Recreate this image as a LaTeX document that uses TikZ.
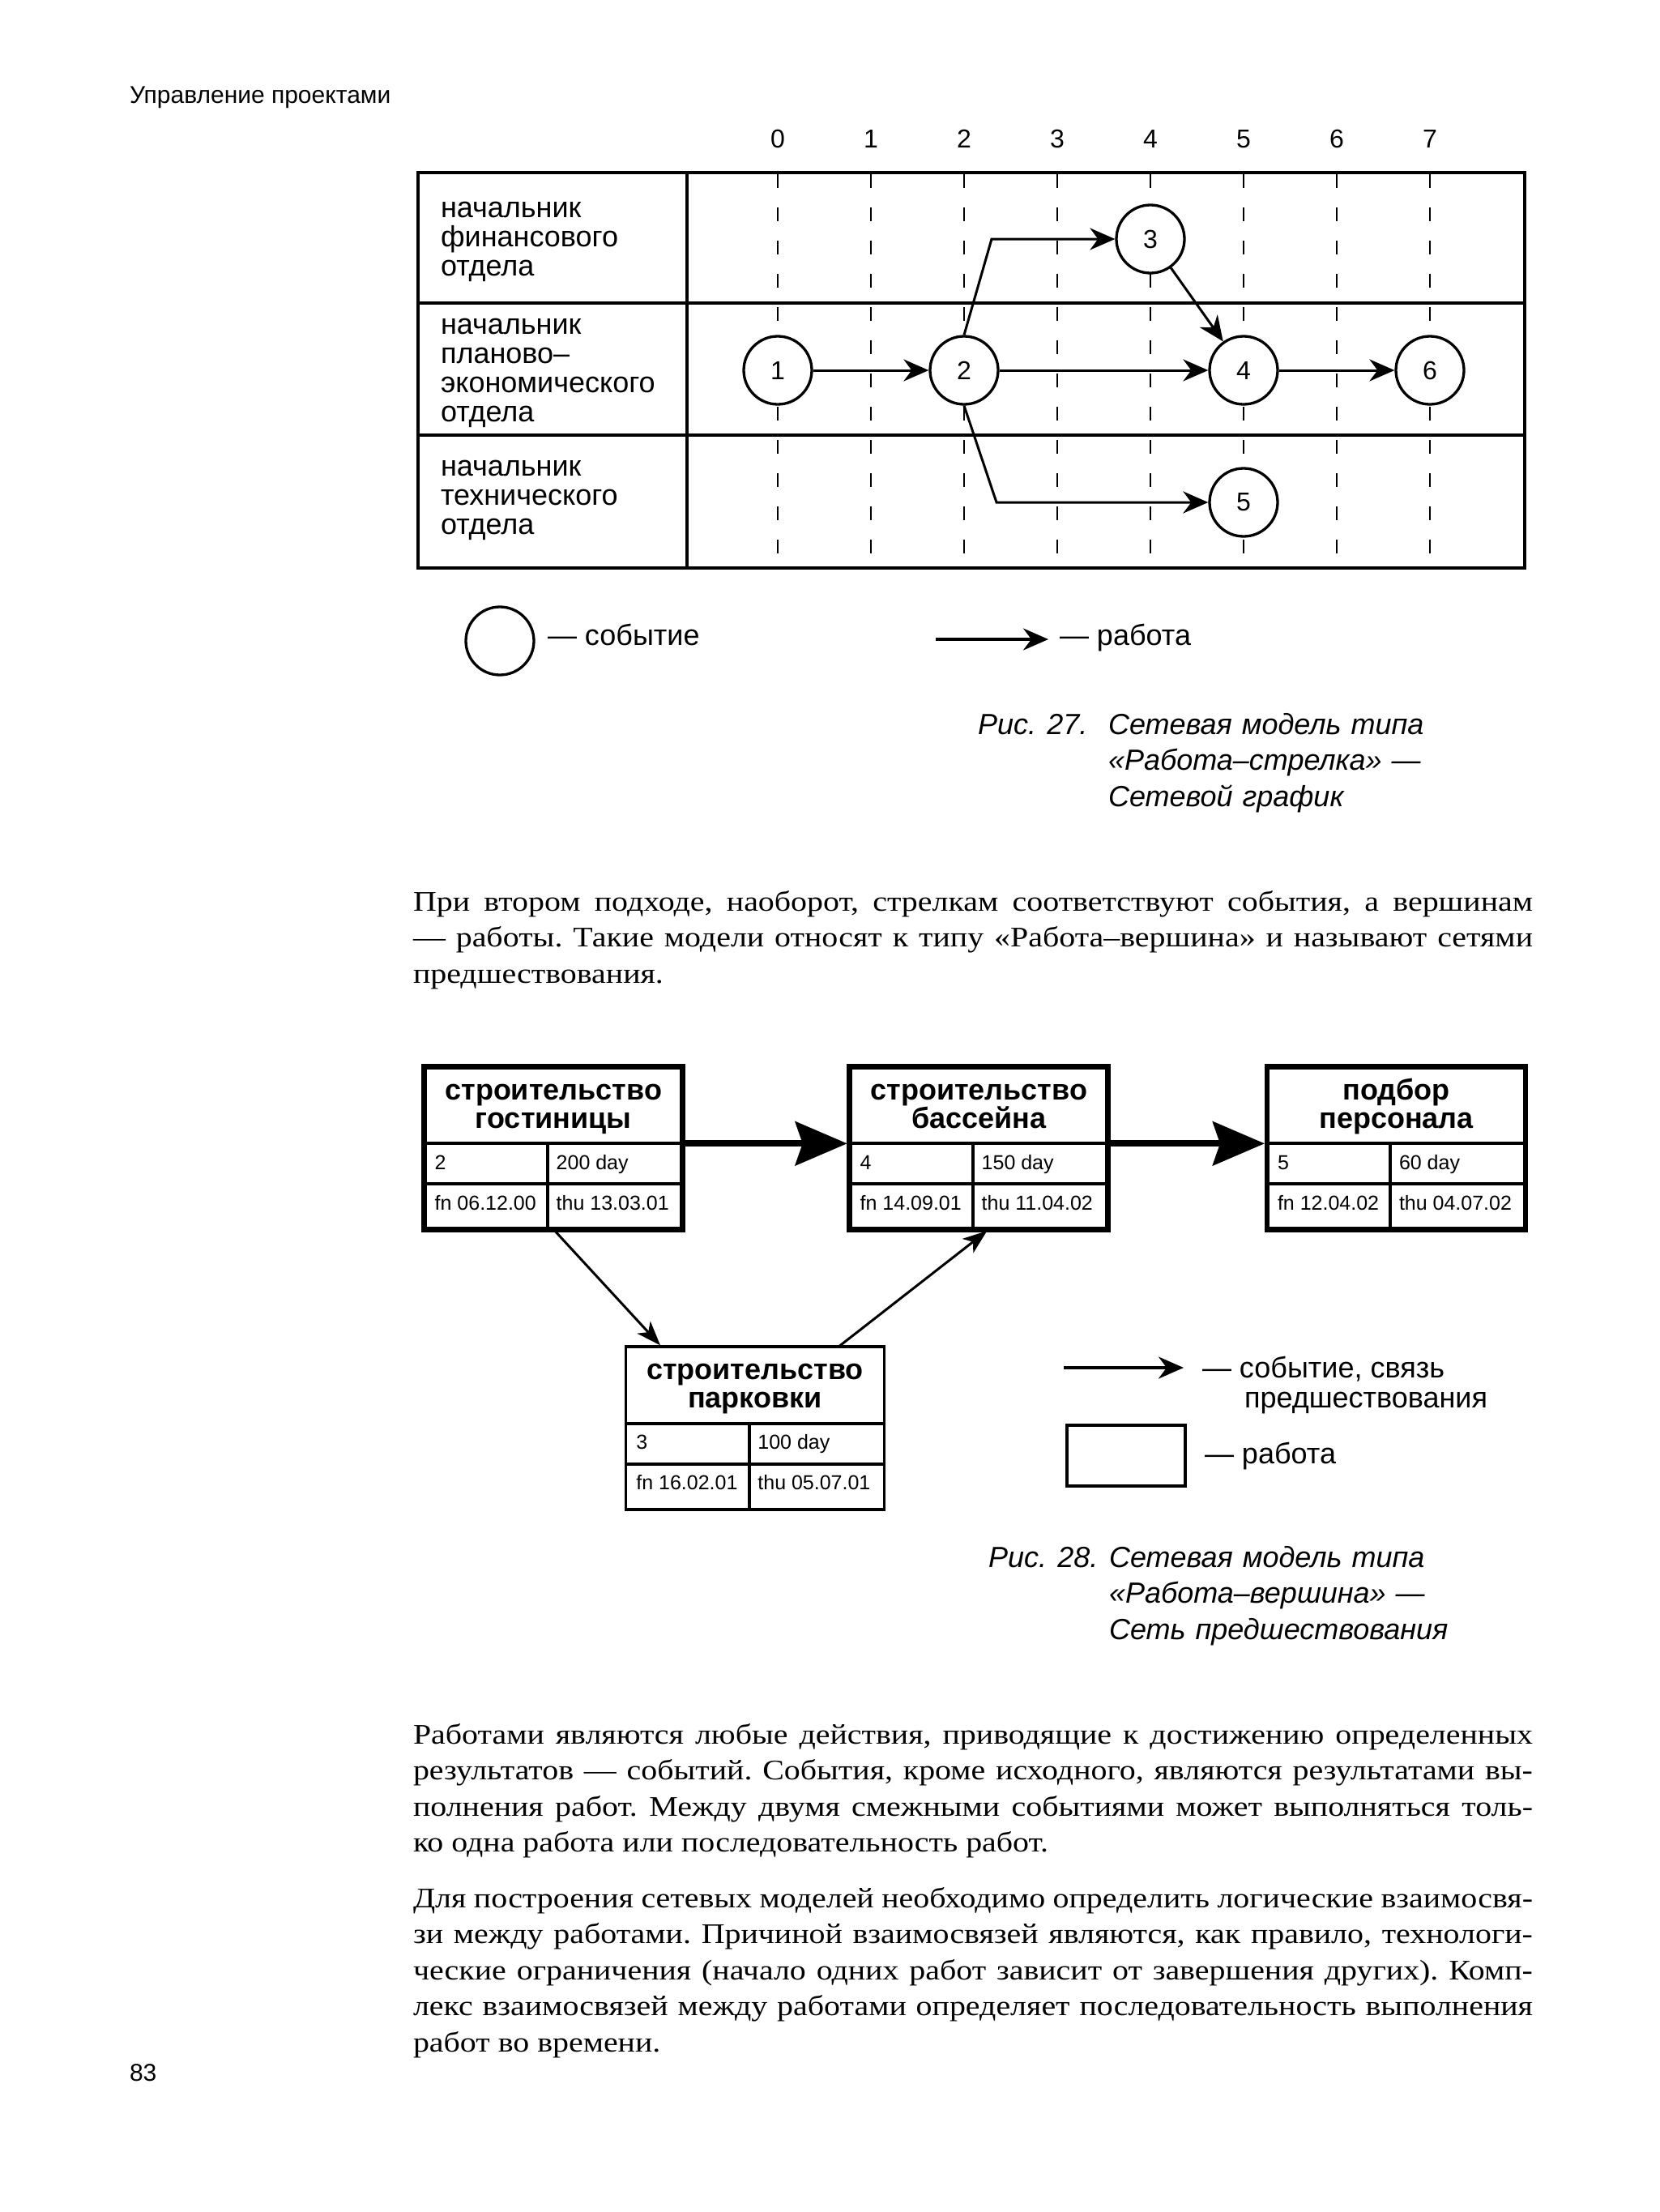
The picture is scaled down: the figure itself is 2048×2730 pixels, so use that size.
\documentclass[tikz,border=0pt]{standalone}
\usepackage{fontspec}
\setmainfont{Liberation Sans}
\newfontfamily\bodyserif[FakeStretch=1.14]{Liberation Serif}
\usetikzlibrary{arrows.meta,calc}

\newcommand\jl[1]{\hbox to 1382pt{#1}}
\newcommand\fsz[2]{\fontsize{#1pt}{#2pt}\selectfont}

\tikzset{
  txt/.style={inner sep=0pt, outer sep=0pt, anchor=base west},
  lab/.style={txt, text width=300pt, align=left, font=\fsz{36}{36}},
  ev/.style={circle, draw, line width=3.3pt, fill=white, minimum size=84pt, inner sep=0pt, font=\fsz{32}{32}},
  arr/.style={line width=3pt, -{Stealth[length=31pt,width=27pt,inset=10pt]}},
  thinarr/.style={line width=3pt, -{Stealth[length=30pt,width=22pt,inset=8pt]}},
  bigarr/.style={line width=8pt, -{Stealth[length=64pt,width=54pt,inset=9pt]}},
  gridline/.style={line width=2.5pt, dash pattern=on 17pt off 24pt},
  tab/.style={line width=4pt},
  abox/.style={draw, rectangle, minimum width=319pt, minimum height=201pt, inner sep=0pt, outer sep=0pt},
  boxline/.style={line width=4pt},
  boxtitle/.style={inner sep=0pt, outer sep=0pt, anchor=base, text width=310pt, align=center, font=\bfseries\fsz{36}{35}},
  cell/.style={txt, font=\fsz{25}{25}},
  para/.style={txt, font=\bodyserif\fsz{35}{44.5}\frenchspacing},
  capblock/.style={txt, text width=560pt, align=left, font=\itshape\fsz{36}{44.5}},
  legtxt/.style={txt, font=\fsz{36}{36}},
}

% name, x0, y0, border, title, num, duration, start, end
\newcommand\actbox[9]{%
  \node[abox, line width=#4, anchor=north west] (#1) at (#2,#3) {};
  \draw[boxline] ($(#1.north west)+(0,95)$) -- ($(#1.north east)+(0,95)$);
  \draw[boxline] ($(#1.north west)+(0,145)$) -- ($(#1.north east)+(0,145)$);
  \draw[boxline] ($(#1.north west)+(152.3,95)$) -- ($(#1.south west)+(152.3,0)$);
  \node[boxtitle] (#1t) at ($(#1.north)+(0,41)$) {#5};
  \node[cell] (#1n) at ($(#1.north west)+(13,127)$) {#6};
  \node[cell] (#1d) at ($(#1.north west)+(163,127)$) {#7};
  \node[cell] (#1s) at ($(#1.north west)+(13,177)$) {#8};
  \node[cell] (#1e) at ($(#1.north west)+(163,177)$) {#9};
}

\begin{document}
\begin{tikzpicture}[x=1pt,y=-1pt]
\useasboundingbox (0,0) rectangle (2048,2730);
\path[fill=white] (0,0) rectangle (2048,2730);

% header and page number
\node[txt, font=\fsz{30}{30}] (head) at (160,127) {Управление проектами};
\node[txt, font=\fsz{30}{30}] (pnum) at (160,2568) {83};

% ---------- Fig. 27 ----------
\foreach \k in {0,...,7} {
  \node[inner sep=0pt, anchor=base, font=\fsz{32}{32}] (col\k) at ({960+115*\k},182.5) {\k};
  \draw[gridline] ({960+115*\k},215) -- ({960+115*\k},701);
}
\draw[tab] (516,213) rectangle (1882,701);
\draw[tab] (516,374) -- (1882,374);
\draw[tab] (516,537) -- (1882,537);
\draw[tab] (848,213) -- (848,701);

\node[lab] (row1) at (544,268) {начальник\\финансового\\отдела};
\node[lab] (row2) at (544,412) {начальник\\планово–\\экономического\\отдела};
\node[lab] (row3) at (544,587) {начальник\\технического\\отдела};

\node[ev] (n1) at (960,457) {1};
\node[ev] (n2) at (1190,457) {2};
\node[ev] (n3) at (1420,295) {3};
\node[ev] (n4) at (1535,457) {4};
\node[ev] (n5) at (1535,620) {5};
\node[ev] (n6) at (1765,457) {6};
\coordinate (b23) at (1224,295);
\coordinate (b25) at (1230,620);

\draw[arr] (n1) -- (n2);
\draw[arr] (n2) -- (n4);
\draw[arr] (n4) -- (n6);
\draw[arr] (n3) -- (n4);
\draw[arr] (n2.north) -- (b23) -- (n3);
\draw[arr] (n2.south) -- (b25) -- (n5);

% legend
\node[ev] (lev) at (617,791) {};
\node[legtxt] (levt) at (676,796) {— событие};
\coordinate (la1) at (1155,789);
\coordinate (la2) at (1294,789);
\draw[arr, line width=3.5pt] (la1) -- (la2);
\node[legtxt] (lart) at (1308,796) {— работа};

% caption 27
\node[txt, font=\itshape\fsz{36}{36}] (c27a) at (1207,906) {Рис. 27.};
\node[capblock] (c27b) at (1368,906) {Сетевая модель типа\\«Работа–стрелка» —\\Сетевой график};

% paragraph 1
\node[para] (p1) at (510,1124) {\vtop{%
\jl{При втором подходе, наоборот, стрелкам соответствуют события, а вершинам}
\jl{— работы. Такие модели относят к типу «Работа–вершина» и называют сетями}
\hbox{предшествования.}}};

% ---------- Fig. 28 ----------
\actbox{A}{523.7}{1316.3}{6.5pt}{строительство\\гостиницы}{2}{200 day}{fn 06.12.00}{thu 13.03.01}
\actbox{B}{1048.7}{1316.3}{6.5pt}{строительство\\бассейна}{4}{150 day}{fn 14.09.01}{thu 11.04.02}
\actbox{C}{1564}{1316.3}{6.5pt}{подбор\\персонала}{5}{60 day}{fn 12.04.02}{thu 04.07.02}
\actbox{D}{772.4}{1661.8}{3.5pt}{строительство\\парковки}{3}{100 day}{fn 16.02.01}{thu 05.07.01}

\draw[bigarr, shorten >=3pt] ($(A.north east)+(0,95)$) -- ($(B.north west)+(0,95)$);
\draw[bigarr, shorten >=3pt] ($(B.north east)+(0,95)$) -- ($(C.north west)+(0,95)$);
\draw[thinarr, shorten >=2pt] (A.south) -- ($(D.north west)+(44,0)$);
\draw[thinarr, shorten >=3pt] ($(D.north west)+(263,0)$) -- ($(B.south west)+(172,0)$);

% legend 2
\coordinate (lb1) at (1313,1688);
\coordinate (lb2) at (1461,1688);
\draw[arr, line width=3.5pt] (lb1) -- (lb2);
\node[legtxt] (lbt1) at (1484,1700) {— событие, связь};
\node[legtxt] (lbt2) at (1536,1737) {предшествования};
\node[draw, line width=4pt, minimum width=146pt, minimum height=75pt, anchor=north west, inner sep=0pt] (lrect) at (1315,1757) {};
\node[legtxt] (lrt) at (1487,1806) {— работа};

% caption 28
\node[txt, font=\itshape\fsz{36}{36}] (c28a) at (1220,1934) {Рис. 28.};
\node[capblock] (c28b) at (1369,1934) {Сетевая модель типа\\«Работа–вершина» —\\Сеть предшествования};

% paragraphs 2 and 3
\node[para] (p2) at (510,2152) {\vtop{%
\jl{Работами являются любые действия, приводящие к достижению определенных}
\jl{результатов — событий. События, кроме исходного, являются результатами вы-}
\jl{полнения работ. Между двумя смежными событиями может выполняться толь-}
\hbox{ко одна работа или последовательность работ.}}};

\node[para] (p3) at (510,2354) {\vtop{%
\jl{Для построения сетевых моделей необходимо определить логические взаимосвя-}
\jl{зи между работами. Причиной взаимосвязей являются, как правило, технологи-}
\jl{ческие ограничения (начало одних работ зависит от завершения других). Комп-}
\jl{лекс взаимосвязей между работами определяет последовательность выполнения}
\hbox{работ во времени.}}};

\end{tikzpicture}
\end{document}
